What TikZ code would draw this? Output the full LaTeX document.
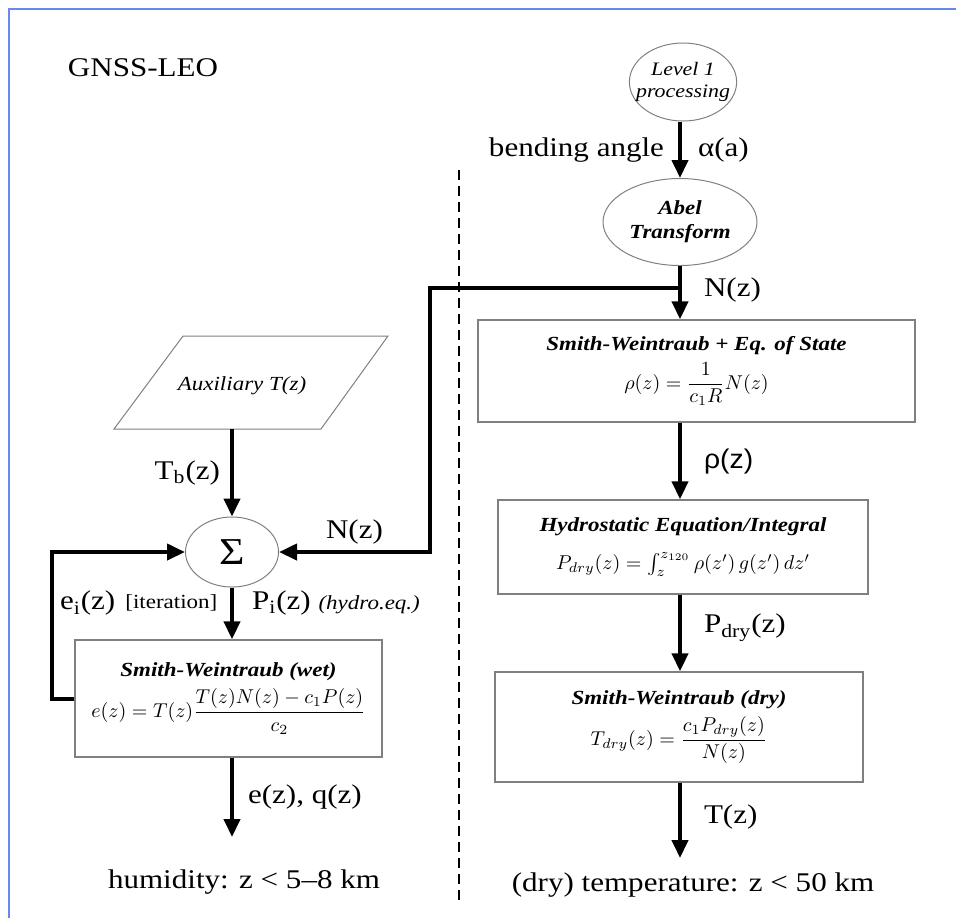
\documentclass[tikz,border=0pt]{standalone}
\usepackage{fontspec}
\setmainfont{Liberation Serif}[FakeStretch=1.15]
\newfontfamily\sanslbl{Liberation Sans}[FakeStretch=1.05]
\usepackage{amsmath}
\usetikzlibrary{arrows.meta,shapes.geometric}
\definecolor{framecol}{RGB}{105,135,240}
\newcommand{\lblsize}{\fontsize{13.5}{15}\selectfont}
\newcommand{\smlsize}{\fontsize{10}{12}\selectfont}

\begin{document}
\begin{tikzpicture}[x=0.5pt,y=-0.5pt,
  flow/.style={line width=2pt,-{Triangle[length=9pt,width=8pt]}},
  procbox/.style={draw=gray,line width=0.7pt,rectangle,align=center,inner sep=0pt,font=\smlsize},
  oval/.style={draw=gray,line width=0.5pt,ellipse,align=center,inner sep=0pt},
  lbl/.style={font=\lblsize,inner sep=2pt}]
  \useasboundingbox (0,0) rectangle (956,918);
  \draw[framecol,line width=1pt] (9,918) -- (9,9) -- (956,9);

  \node[lbl] (title) at (143,68) {GNSS-LEO};

  \node[oval,inner sep=-4.5pt,minimum width=45pt,minimum height=39pt,font=\fontsize{9.5}{11}\selectfont\itshape] (lvl) at (683,82) {Level 1\\processing};
  \node[oval,minimum width=77pt,minimum height=43.5pt,font=\smlsize\bfseries\itshape] (abel) at (680,222) {Abel\\Transform};
  \node[procbox,minimum width=218.5pt,minimum height=51pt] (swe) at (696.5,371)
    {\textbf{\textit{Smith-Weintraub + Eq. of State}}\\[3pt] $\rho(z)=\dfrac{1}{c_1R}N(z)$};
  \node[procbox,minimum width=185pt,minimum height=47pt] (hyd) at (683,547)
    {\textbf{\textit{Hydrostatic Equation/Integral}}\\[7pt] $P_{dry}(z)=\int_z^{z_{120}}\rho(z')\,g(z')\,dz'$};
  \node[procbox,minimum width=184pt,minimum height=55pt] (swd) at (679,727)
    {\textbf{\textit{Smith-Weintraub (dry)}}\\[3pt] $T_{dry}(z)=\dfrac{c_1P_{dry}(z)}{N(z)}$};
  \node[lbl] (temp) at (693,885) {(dry) temperature: z < 50 km};

  \draw[gray,line width=0.5pt] (183,336) -- (388,336) -- (321,429) -- (114,429) -- cycle;
  \node[font=\smlsize\itshape] (aux) at (242,386) {Auxiliary T(z)};
  \coordinate (auxb) at (232,429);
  \node[oval,minimum width=46.5pt,minimum height=35pt,font=\fontsize{19}{19}\selectfont] (sig) at (232,552) {Σ};
  \node[procbox,minimum width=153.5pt,minimum height=58.5pt] (wet) at (228.5,698.5)
    {\textbf{\textit{Smith-Weintraub (wet)}}\\[3pt] $e(z)=T(z)\dfrac{T(z)N(z)-c_1P(z)}{c_2}$};
  \node[lbl] (hum) at (244,882) {humidity: z < 5–8 km};

  \coordinate (jn) at (680,288);
  \coordinate (jl) at (430,288);
  \coordinate (loopx) at (52,600);
  \coordinate (eout) at (232,837);
  \coordinate (tout) at (680,858);

  \draw[flow] (lvl.south -| abel) -- (abel.north) node[midway,left=5pt,lbl]{bending angle} node[midway,right=6pt,lbl]{α(a)};
  \draw[flow] (abel.south) -- (abel.south |- swe.north) node[pos=.45,right=9pt,lbl]{N(z)};
  \draw[flow] (jn) -- (jl) -- (jl |- sig.east) -- (sig.east) node[midway,above=1pt,lbl]{N(z)};
  \draw[flow] (swe.south -| abel) -- (hyd.north -| abel) node[midway,right=9pt,lbl]{\sanslbl ρ(z)};
  \draw[flow] (hyd.south -| abel) -- (swd.north -| abel) node[pos=.43,right=9pt,lbl]{P\textsubscript{dry}(z)};
  \draw[flow] (swd.south -| abel) -- (tout) node[pos=.45,right=9pt,lbl]{T(z)};

  \draw[flow] (auxb) -- (sig.north) node[midway,left=3pt,lbl]{T\textsubscript{b}(z)};
  \draw[flow] (sig.south) -- (sig.south |- wet.north) node[pos=.3,left=3pt,font=\smlsize]{[iteration]}
    node[pos=.3,right=7pt,lbl]{P\textsubscript{i}(z) {\smlsize\itshape (hydro.eq.)}};
  \draw[flow] (wet.west) -- (loopx |- wet.west) -- (loopx |- sig.west) node[pos=.65,right=1pt,lbl]{e\textsubscript{i}(z)} -- (sig.west);
  \draw[flow] (sig.south |- wet.south) -- (eout) node[midway,right=5pt,lbl]{e(z), q(z)};

  \draw[line width=0.7pt,dash pattern=on 5pt off 3pt] (459,170) -- (459,905);
\end{tikzpicture}
\end{document}
